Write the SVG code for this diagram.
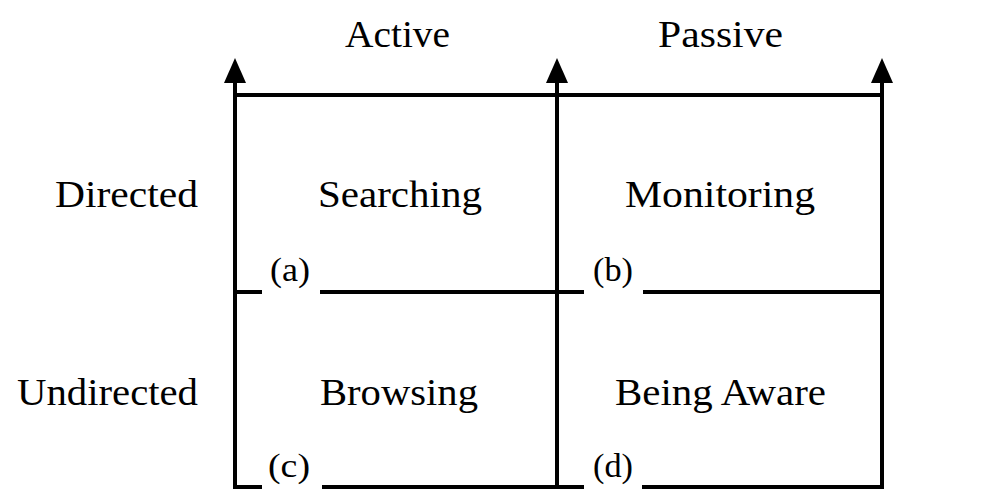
<svg xmlns="http://www.w3.org/2000/svg" width="996" height="496" viewBox="0 0 996 496">
<defs>
<style>
.t{font-family:"Liberation Serif","Times New Roman",serif;font-size:37px;fill:#000}
.s{font-family:"Liberation Serif","Times New Roman",serif;font-size:33px;fill:#000}
.l{stroke:#000;stroke-width:4;fill:none}
.a{fill:#000}
</style>
</defs>
<rect width="996" height="496" fill="#fff"/>
<g id="connectors">
<line class="l" x1="235" y1="80" x2="235" y2="489"/>
<line class="l" x1="557" y1="80" x2="557" y2="489"/>
<line class="l" x1="882" y1="80" x2="882" y2="489"/>
<line class="l" x1="233" y1="95" x2="884" y2="95"/>
<line class="l" x1="233" y1="292" x2="262" y2="292"/>
<line class="l" x1="320" y1="292" x2="584" y2="292"/>
<line class="l" x1="643" y1="292" x2="884" y2="292"/>
<line class="l" x1="233" y1="487" x2="262" y2="487"/>
<line class="l" x1="322" y1="487" x2="584" y2="487"/>
<line class="l" x1="642" y1="487" x2="884" y2="487"/>
<polygon class="a" points="235,58 224,83 246,83"/>
<polygon class="a" points="557,58 546,83 568,83"/>
<polygon class="a" points="882,58 871,83 893,83"/>
</g>
<g id="header-active"><text class="t" x="345" y="47" textLength="105" lengthAdjust="spacingAndGlyphs">Active</text></g>
<g id="header-passive"><text class="t" x="658" y="47" textLength="125" lengthAdjust="spacingAndGlyphs">Passive</text></g>
<g id="row-directed"><text class="t" x="55" y="207" textLength="143" lengthAdjust="spacingAndGlyphs">Directed</text></g>
<g id="row-undirected"><text class="t" x="17" y="405" textLength="181" lengthAdjust="spacingAndGlyphs">Undirected</text></g>
<g id="cell-a">
<text class="t" x="318" y="207" textLength="164" lengthAdjust="spacingAndGlyphs">Searching</text>
<text class="s" x="270" y="281" textLength="40" lengthAdjust="spacingAndGlyphs">(a)</text>
</g>
<g id="cell-b">
<text class="t" x="625" y="207" textLength="190" lengthAdjust="spacingAndGlyphs">Monitoring</text>
<text class="s" x="593" y="281" textLength="40" lengthAdjust="spacingAndGlyphs">(b)</text>
</g>
<g id="cell-c">
<text class="t" x="320" y="405" textLength="158" lengthAdjust="spacingAndGlyphs">Browsing</text>
<text class="s" x="268" y="477" textLength="42" lengthAdjust="spacingAndGlyphs">(c)</text>
</g>
<g id="cell-d">
<text class="t" x="615" y="405" textLength="211" lengthAdjust="spacingAndGlyphs">Being Aware</text>
<text class="s" x="593" y="477" textLength="40" lengthAdjust="spacingAndGlyphs">(d)</text>
</g>
</svg>
